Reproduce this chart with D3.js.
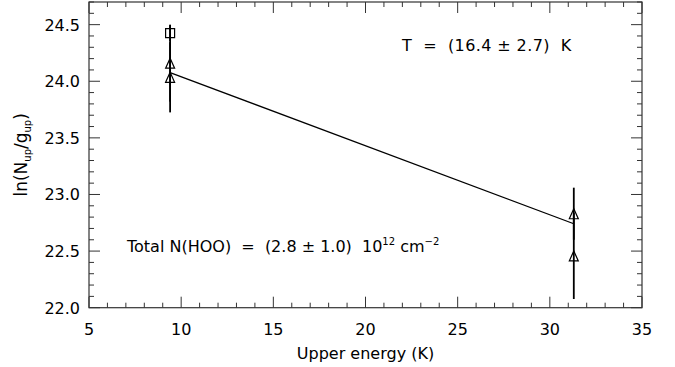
<!DOCTYPE html>
<html>
<head>
<meta charset="utf-8">
<script src="https://cdn.jsdelivr.net/npm/d3@7"></script>
<style>
  body { margin: 0; background: #fff; }
  text { font-family: "DejaVu Sans", sans-serif; fill: #000; }
</style>
</head>
<body>
<div id="chart"></div>
<script>
// data
var energy = [9.4, 9.4, 9.4, 31.3, 31.3];
var lnN = [24.425, 24.16, 24.035, 22.83, 22.457];
var lnErr = [0.07, 0.34, 0.31, 0.23, 0.38];
var symbol = ['square', 'triangle', 'triangle', 'triangle', 'triangle'];
var fitT = 16.4, fitIntercept = 24.65;
var fitRange = [9.4, 31.3];
var xTicks = [5, 10, 15, 20, 25, 30, 35];
var yTicks = [22.0, 22.5, 23.0, 23.5, 24.0, 24.5];

var width = 675, height = 367;
var margins = {left: 89, right: 33, top: 2, bottom: 60};

var svg = d3.select('#chart').append('svg')
    .attr('width', width)
    .attr('height', height);

var x = d3.scaleLinear().domain([5, 35]).range([margins.left, width - margins.right]);
var y = d3.scaleLinear().domain([22.0, 24.7]).range([height - margins.bottom + 0.7, margins.top]);

var x0 = x.range()[0], x1 = x.range()[1], y0 = y.range()[0], y1 = y.range()[1];
var axisColor = '#333';

// frame
svg.append('rect')
    .attr('x', x0).attr('y', y1)
    .attr('width', x1 - x0).attr('height', y0 - y1)
    .attr('fill', 'none').attr('stroke', axisColor).attr('stroke-width', 1.2);

// ticks (bottom/top, left/right) with minors
var xMinor = d3.range(5, 35.01, 1);
var yMinor = d3.range(22.0, 24.71, 0.1);
var tk = svg.append('g').attr('stroke', axisColor).attr('stroke-width', 1);
xMinor.forEach(function(v, i) {
    var len = (i % 5 === 0) ? 11 : 5;
    tk.append('line').attr('x1', x(v)).attr('x2', x(v)).attr('y1', y0).attr('y2', y0 - len);
    tk.append('line').attr('x1', x(v)).attr('x2', x(v)).attr('y1', y1).attr('y2', y1 + len);
});
yMinor.forEach(function(v, i) {
    var len = (i % 5 === 0) ? 11 : 5;
    tk.append('line').attr('y1', y(v)).attr('y2', y(v)).attr('x1', x0).attr('x2', x0 + len);
    tk.append('line').attr('y1', y(v)).attr('y2', y(v)).attr('x1', x1).attr('x2', x1 - len);
});

// tick labels
svg.append('g').selectAll('text').data(xTicks).enter().append('text')
    .attr('x', function(d) { return x(d); })
    .attr('y', y0 + 27)
    .attr('text-anchor', 'middle')
    .attr('font-size', 16)
    .text(function(d) { return d; });

svg.append('g').selectAll('text').data(yTicks).enter().append('text')
    .attr('x', x0 - 9)
    .attr('y', function(d) { return y(d) + 6; })
    .attr('text-anchor', 'end')
    .attr('font-size', 16)
    .text(function(d) { return d.toFixed(1); });

// axis titles
svg.append('text')
    .attr('x', (x0 + x1) / 2).attr('y', y0 + 51)
    .attr('text-anchor', 'middle').attr('font-size', 16)
    .text('Upper energy (K)');

var yt = svg.append('text')
    .attr('transform', 'translate(27,' + ((y0 + y1) / 2) + ') rotate(-90)')
    .attr('text-anchor', 'middle').attr('font-size', 17);
yt.append('tspan').text('ln(N');
yt.append('tspan').attr('font-size', 10).attr('dy', 4).text('up');
yt.append('tspan').attr('dy', -4).text('/g');
yt.append('tspan').attr('font-size', 10).attr('dy', 4).text('up');
yt.append('tspan').attr('dy', -4).text(')');

// fit line
svg.append('line')
    .attr('x1', x(fitRange[0])).attr('y1', y(fitIntercept - fitRange[0] / fitT))
    .attr('x2', x(fitRange[1])).attr('y2', y(fitIntercept - fitRange[1] / fitT))
    .attr('stroke', '#000').attr('stroke-width', 1.3);

// error bars
var pts = energy.map(function(e, i) {
    return {e: e, v: lnN[i], err: lnErr[i], s: symbol[i]};
});
svg.append('g').selectAll('line').data(pts).enter().append('line')
    .attr('x1', function(d) { return x(d.e); })
    .attr('x2', function(d) { return x(d.e); })
    .attr('y1', function(d) { return y(d.v - d.err); })
    .attr('y2', function(d) { return y(d.v + d.err); })
    .attr('stroke', '#000').attr('stroke-width', 1.8);

// markers
svg.append('g').selectAll('path').data(pts).enter().append('path')
    .attr('transform', function(d) { return 'translate(' + x(d.e) + ',' + y(d.v) + ')'; })
    .attr('d', function(d) {
        if (d.s === 'square') return 'M-4.5,-4.5H4.5V4.5H-4.5Z';
        return 'M-4.5,5L0,-5L4.5,5Z';
    })
    .attr('fill', 'none').attr('stroke', '#000').attr('stroke-width', 1.2);

// annotations
svg.append('text')
    .attr('x', 402).attr('y', 51).attr('font-size', 16)
    .attr('xml:space', 'preserve')
    .attr('letter-spacing', 0.4)
    .text('T  =  (16.4 \u00b1 2.7)  K');

var tn = svg.append('text')
    .attr('x', 127).attr('y', 252).attr('font-size', 16)
    .attr('xml:space', 'preserve');
tn.append('tspan').text('Total N(HOO)  =  (2.8 \u00b1 1.0)  10');
tn.append('tspan').attr('font-size', 10).attr('dy', -7).text('12');
tn.append('tspan').attr('dy', 7).text(' cm');
tn.append('tspan').attr('font-size', 10).attr('dy', -7).text('\u22122');
</script>
</body>
</html>
